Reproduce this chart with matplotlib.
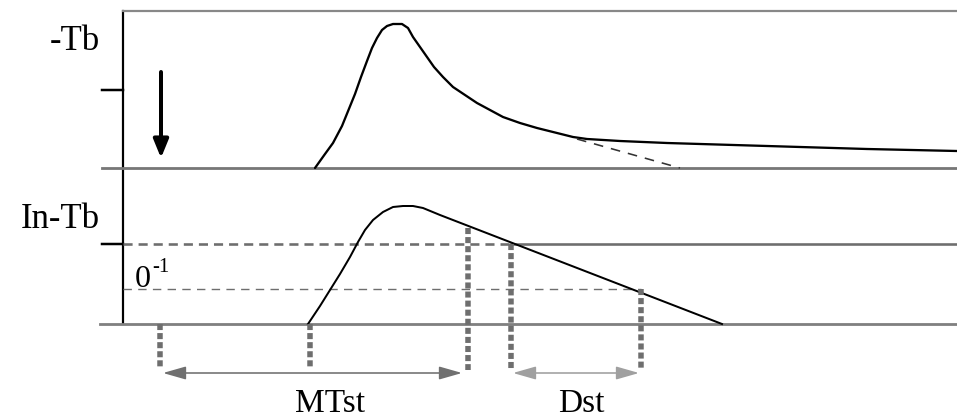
import matplotlib.pyplot as plt

# curves (pixel coordinates, y grows downward)
top_x = [315, 325, 333, 342, 348.5, 355, 361, 367, 372, 377, 382, 387, 393, 402, 408, 413, 420, 427,
         434, 443, 453, 465, 477, 490, 503, 520, 537, 557, 573, 587, 620, 667, 767, 867, 957]
top_y = [168, 154, 143, 126, 110, 94, 77, 61, 48, 38, 30, 26, 24, 24, 28, 37, 47, 57,
         67, 77, 87, 95, 103, 110, 117, 123, 128, 133, 137, 139, 141, 143, 146, 149, 151]
tail_x = [577, 680]
tail_y = [139, 168]

low_x = [308, 312, 320, 330, 340, 350, 358, 365, 373, 383, 393, 403, 413, 423, 440, 722]
low_y = [324, 318, 306, 290, 274, 257, 242, 230, 220, 212, 207, 206, 206, 208, 215, 324]

# marker positions
drop_x = [160, 310, 468, 511, 641]
drop_top = [324, 324, 228, 244, 289]
drop_bot = [368, 368, 370, 370, 370]

mtst = (163, 462)
dst = (513, 639)

fig = plt.figure(figsize=(9.57, 4.2), dpi=100)
ax = fig.add_axes([0, 0, 1, 1])
ax.set_xlim(0, 957)
ax.set_ylim(420, 0)
ax.axis('off')

px = 0.72  # points per pixel
grey = '#6e6e6e'
serif = 'Liberation Serif'

# frame lines
ax.plot([123, 123], [11, 324], color='black', lw=2.2 * px)
ax.plot([123, 957], [11, 11], color='#888888', lw=2.2 * px)
ax.plot([102, 957], [168, 168], color='#777777', lw=2.8 * px)
ax.plot([100, 957], [324, 324], color='#808080', lw=2.8 * px)
ax.plot([102, 123], [90, 90], color='black', lw=2.5 * px)
ax.plot([102, 123], [244, 244], color='black', lw=2.5 * px)

# reference levels
ax.plot([123, 511], [244, 244], color=grey, lw=2.6 * px, dashes=(3.5, 2.3))
ax.plot([511, 957], [244, 244], color=grey, lw=2.6 * px)
ax.plot([123, 641], [289, 289], color=grey, lw=1.4 * px, dashes=(6, 4.5))

# curves
ax.plot(top_x, top_y, color='black', lw=2.3 * px, solid_capstyle='round', solid_joinstyle='round')
ax.plot(tail_x, tail_y, color='#333333', lw=1.6 * px, dashes=(6, 5))
ax.plot(low_x, low_y, color='black', lw=2.0 * px, solid_joinstyle='round')

# dotted drops
for x, y0, y1 in zip(drop_x, drop_top, drop_bot):
    ax.plot([x, x], [y0, y1], color=grey, lw=5.5 * px, dashes=(1.1, 0.55))

# arrows
ax.annotate('', xy=(161, 158), xytext=(161, 72),
            arrowprops=dict(arrowstyle='-|>,head_length=1.1,head_width=0.45',
                            color='black', lw=4 * px, shrinkA=0, shrinkB=0))
ax.annotate('', xy=(mtst[1], 373), xytext=(mtst[0], 373),
            arrowprops=dict(arrowstyle='<|-|>,head_length=1.4,head_width=0.4',
                            color='#707070', lw=1.6 * px, shrinkA=0, shrinkB=0))
ax.annotate('', xy=(dst[1], 373), xytext=(dst[0], 373),
            arrowprops=dict(arrowstyle='<|-|>,head_length=1.4,head_width=0.4',
                            color='#a0a0a0', lw=1.6 * px, shrinkA=0, shrinkB=0))

# labels
ax.text(100, 42, '-Tb', family=serif, fontsize=25, ha='right', va='center')
ax.text(100, 220, 'In-Tb', family=serif, fontsize=25, ha='right', va='center')
ax.text(135, 287, '0', family=serif, fontsize=23, ha='left', va='baseline')
ax.text(152, 272, '-1', family=serif, fontsize=15, ha='left', va='baseline')
ax.text(330, 412, 'MTst', family=serif, fontsize=24, ha='center', va='baseline')
ax.text(581, 412, 'Dst', family=serif, fontsize=24, ha='center', va='baseline')

fig.savefig('out.png', dpi=100)
